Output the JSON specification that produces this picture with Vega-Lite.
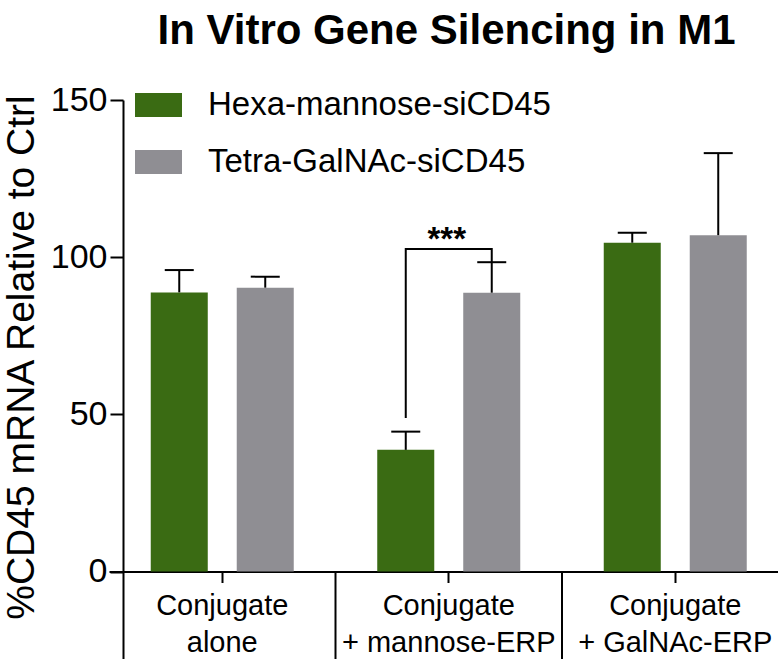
{
  "$schema": "https://vega.github.io/schema/vega-lite/v6.json",
  "width": 655,
  "height": 559,
  "autosize": "none",
  "padding": {"left": 123, "top": 100, "right": 0, "bottom": 0},
  "background": "white",
  "config": {"view": {"stroke": null}, "font": "Liberation Sans"},
  "title": {"text": "In Vitro Gene Silencing in M1", "fontSize": 42, "fontWeight": "bold", "font": "Liberation Sans", "color": "black", "anchor": "middle", "offset": -4, "baseline": "alphabetic", "dx": -4},
  "datasets": {
    "bars": [
      {"condition": "Conjugate alone", "series": "Hexa-mannose-siCD45", "mean": 88.8, "upper": 95.9},
      {"condition": "Conjugate alone", "series": "Tetra-GalNAc-siCD45", "mean": 90.3, "upper": 93.8},
      {"condition": "Conjugate + mannose-ERP", "series": "Hexa-mannose-siCD45", "mean": 38.7, "upper": 44.5},
      {"condition": "Conjugate + mannose-ERP", "series": "Tetra-GalNAc-siCD45", "mean": 88.7, "upper": 98.4},
      {"condition": "Conjugate + GalNAc-ERP", "series": "Hexa-mannose-siCD45", "mean": 104.6, "upper": 107.8},
      {"condition": "Conjugate + GalNAc-ERP", "series": "Tetra-GalNAc-siCD45", "mean": 107.0, "upper": 133.1}
    ],
    "bracket": [
      {"condition": "Conjugate + mannose-ERP", "series": "Hexa-mannose-siCD45", "v": 48.8, "ord": 1},
      {"condition": "Conjugate + mannose-ERP", "series": "Hexa-mannose-siCD45", "v": 102.6, "ord": 2},
      {"condition": "Conjugate + mannose-ERP", "series": "Tetra-GalNAc-siCD45", "v": 102.6, "ord": 3},
      {"condition": "Conjugate + mannose-ERP", "series": "Tetra-GalNAc-siCD45", "v": 98.4, "ord": 4}
    ],
    "sig": [
      {"condition": "Conjugate + mannose-ERP", "v": 102.6, "label": "***"}
    ],
    "dividers": [
      {"condition": "Conjugate + mannose-ERP", "top": 0, "bottom": -40},
      {"condition": "Conjugate + GalNAc-ERP", "top": 0, "bottom": -40}
    ]
  },
  "layer": [
    {
      "data": {"name": "bars"},
      "mark": {"type": "bar"},
      "encoding": {
        "x": {
          "field": "condition", "type": "nominal", "title": null,
          "scale": {"domain": ["Conjugate alone", "Conjugate + mannose-ERP", "Conjugate + GalNAc-ERP"], "range": [-14, 665.5], "paddingInner": 0, "paddingOuter": 0},
          "axis": {"labelExpr": "['Conjugate', substring(datum.label, 10)]", "labelFontSize": 29, "labelColor": "black", "labelLineHeight": 37, "labelPadding": 9, "tickSize": 11, "tickWidth": 2, "domainWidth": 2, "domainColor": "black", "tickColor": "black", "offset": -87.5, "labelAngle": 0, "labelBaseline": "top", "labelAlign": "center", "labelLimit": 300, "labelFont": "Liberation Sans"}
        },
        "xOffset": {"field": "series", "type": "nominal", "scale": {"domain": ["Hexa-mannose-siCD45", "Tetra-GalNAc-siCD45"], "paddingInner": 0.337, "paddingOuter": 0.4855}},
        "y": {
          "field": "mean", "type": "quantitative",
          "scale": {"domain": [-27.83, 150], "nice": false, "zero": false},
          "axis": {"values": [0, 50, 100, 150], "title": "%CD45 mRNA Relative to Ctrl", "titleFontSize": 39, "titleFont": "Liberation Sans", "titleColor": "black", "titleFontWeight": "normal", "titleX": -90, "titleY": 257, "titleAngle": -90, "titleAlign": "center", "titleBaseline": "alphabetic", "labelFontSize": 34, "labelFont": "Liberation Sans", "labelColor": "black", "tickSize": 13, "tickWidth": 2, "domainWidth": 2, "domainColor": "black", "tickColor": "black", "labelPadding": 3, "grid": false}
        },
        "y2": {"datum": 0},
        "color": {
          "field": "series", "type": "nominal",
          "scale": {"domain": ["Hexa-mannose-siCD45", "Tetra-GalNAc-siCD45"], "range": ["#3a6b13", "#8f8e93"]},
          "legend": {"orient": "none", "legendX": 12, "legendY": -18.5, "title": null, "symbolType": "M-1,-0.51H1V0.51H-1Z", "symbolSize": 2209, "symbolStrokeWidth": 0, "symbolOpacity": 1, "labelFontSize": 33, "labelFont": "Liberation Sans", "labelColor": "black", "labelOffset": 26, "rowPadding": 16, "padding": 0, "labelLimit": 600}
        }
      }
    },
    {
      "data": {"name": "bars"},
      "mark": {"type": "rule", "strokeWidth": 2, "color": "black"},
      "encoding": {
        "x": {"field": "condition", "type": "nominal", "title": null},
        "xOffset": {"field": "series", "type": "nominal"},
        "y": {"field": "mean", "type": "quantitative"},
        "y2": {"field": "upper"}
      }
    },
    {
      "data": {"name": "bars"},
      "mark": {"type": "tick", "size": 29, "thickness": 2, "color": "black", "opacity": 1},
      "encoding": {
        "x": {"field": "condition", "type": "nominal", "title": null},
        "xOffset": {"field": "series", "type": "nominal"},
        "y": {"field": "upper", "type": "quantitative"}
      }
    },
    {
      "data": {"name": "bracket"},
      "mark": {"type": "line", "strokeWidth": 2, "color": "black"},
      "encoding": {
        "x": {"field": "condition", "type": "nominal", "title": null},
        "xOffset": {"field": "series", "type": "nominal"},
        "y": {"field": "v", "type": "quantitative"},
        "order": {"field": "ord", "type": "quantitative"}
      }
    },
    {
      "data": {"name": "sig"},
      "mark": {"type": "text", "fontSize": 33, "fontWeight": "bold", "baseline": "alphabetic", "align": "center", "dy": 1, "dx": -2, "color": "black", "font": "Liberation Sans"},
      "encoding": {
        "x": {"field": "condition", "type": "nominal", "title": null},
        "y": {"field": "v", "type": "quantitative"},
        "text": {"field": "label"}
      }
    },
    {
      "data": {"name": "dividers"},
      "mark": {"type": "rule", "strokeWidth": 2, "color": "black"},
      "encoding": {
        "x": {"field": "condition", "type": "nominal", "title": null, "bandPosition": 0},
        "y": {"field": "top", "type": "quantitative"},
        "y2": {"field": "bottom"}
      }
    }
  ]
}
